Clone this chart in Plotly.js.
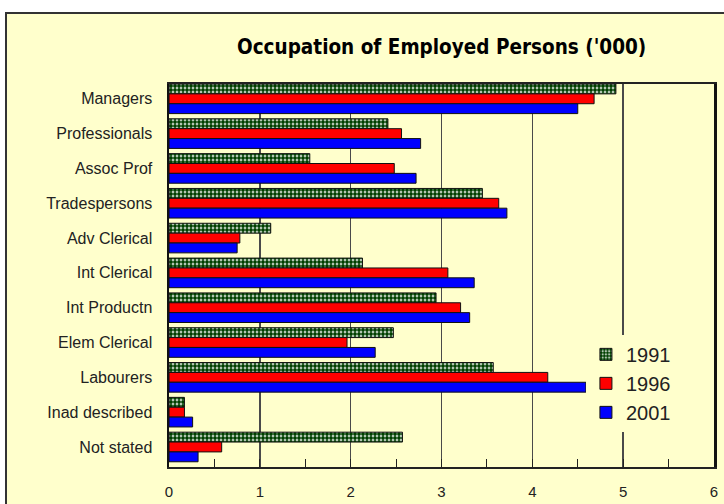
<!DOCTYPE html>
<html>
<head>
<meta charset="utf-8">
<script src="https://cdn.plot.ly/plotly-3.0.1.min.js"></script>
<style>
  html, body { margin:0; padding:0; background:#ffffff; width:724px; height:504px; overflow:hidden; }
  #frame { position:absolute; left:5px; top:12px; width:740px; height:520px; border:2px solid #333; background:#FFFFCC; box-sizing:border-box; }
  #chart { position:absolute; left:0; top:0; width:724px; height:504px; }
</style>
</head>
<body>
<div id="frame"></div>
<div id="chart"></div>
<script>
const categories = ["Managers","Professionals","Assoc Prof","Tradespersons","Adv Clerical","Int Clerical","Int Productn","Elem Clerical","Labourers","Inad described","Not stated"];
const values1991 = [4.92, 2.41, 1.55, 3.45, 1.12, 2.13, 2.94, 2.47, 3.57, 0.17, 2.57];
const values1996 = [4.68, 2.56, 2.48, 3.63, 0.78, 3.07, 3.21, 1.96, 4.17, 0.17, 0.58];
const values2001 = [4.50, 2.77, 2.72, 3.72, 0.75, 3.36, 3.31, 2.27, 4.59, 0.26, 0.32];
const seriesNames = ["1991","1996","2001"];
const xTicks = [0,1,2,3,4,5,6];

const lineStyle = {color:'#111111', width:1};
const traces = [
  {name:seriesNames[0], x:values1991, y:categories, type:'bar', orientation:'h',
   marker:{color:'#ffffff', line:lineStyle, pattern:{shape:'.', fgcolor:'#004000', bgcolor:'#ffffff', size:4, solidity:0.75}}},
  {name:seriesNames[1], x:values1996, y:categories, type:'bar', orientation:'h',
   marker:{color:'#ff0000', line:lineStyle}},
  {name:seriesNames[2], x:values2001, y:categories, type:'bar', orientation:'h',
   marker:{color:'#0000ff', line:lineStyle}}
];

const layout = {
  width:724, height:504,
  paper_bgcolor:'rgba(0,0,0,0)', plot_bgcolor:'#FFFFCC',
  margin:{l:169, r:10, t:84, b:37},
  barmode:'group', bargap:0.15, bargroupgap:0,
  font:{family:'Liberation Sans, Arial, sans-serif', size:14, color:'#222222'},
  title:{text:"Occupation of Employed Persons ('000)", x:0.61, xanchor:'center', y:0.908, yanchor:'middle',
         font:{family:'DejaVu Sans Condensed, Liberation Sans Narrow, sans-serif', size:20.5, color:'#000000', weight:'bold'}},
  xaxis:{range:[0,6], tickvals:xTicks, ticktext:xTicks.map(String), showgrid:true, gridcolor:'#4a4a4a', gridwidth:1.5,
         zeroline:false, showline:true, linecolor:'#222222', linewidth:2, mirror:true,
         ticks:'inside', ticklen:0, ticklabelstandoff:10, tickfont:{size:15, color:'#222'},
         minor:{dtick:0.5, tick0:0, ticks:'inside', ticklen:8, tickcolor:'#222', showgrid:false}},
  yaxis:{type:'category', range:[10.575, -0.425], showgrid:false, zeroline:false,
         showline:true, linecolor:'#111111', linewidth:2.5, mirror:true, ticks:'', ticklabelstandoff:11,
         tickfont:{size:16, color:'#222'}},
  legend:{x:0.765, xanchor:'left', y:0.345, yanchor:'top', bgcolor:'#FFFFCC', borderwidth:0,
          font:{size:20, color:'#222'}, tracegroupgap:0, itemwidth:30, traceorder:'normal'},
  showlegend:true
};

Plotly.newPlot('chart', traces, layout, {displayModeBar:false, staticPlot:true});
</script>
</body>
</html>
